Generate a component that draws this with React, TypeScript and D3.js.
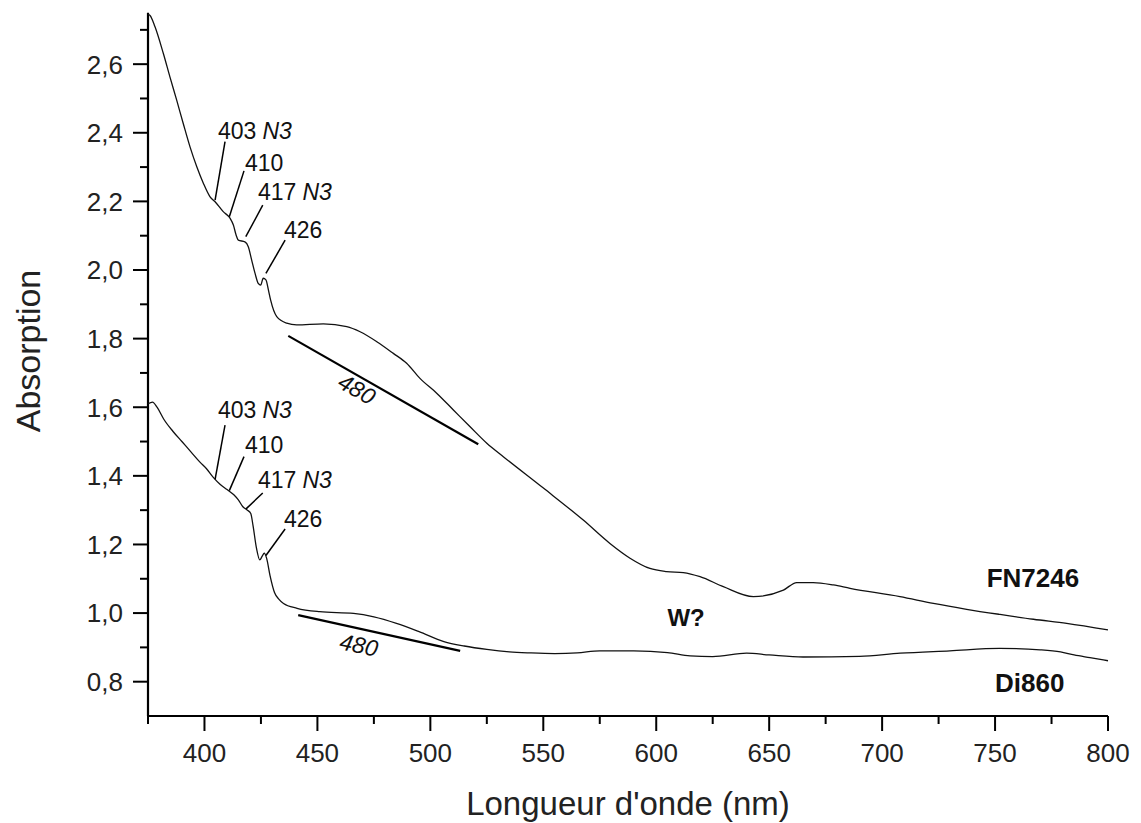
import React from "react";
import * as d3 from "d3";

// ---------- data ----------
const fnWavelength = [375, 375.9, 378.1, 381.8, 384.7, 387.7, 390.6, 393.6, 396.6, 399.5, 402.4, 404.7, 408.3, 411.3, 412.8, 414.0, 415.0, 417.9, 419.4, 420.9, 422.4, 423.8, 424.9, 426.0, 427.2, 428.3, 429.3, 432.0, 436.4, 440.8, 452.6, 463.0, 468.9, 476.3, 483.6, 489.5, 495.4, 502.8, 510.2, 517.6, 525.0, 532.3, 549.9, 567.7, 579.5, 588.4, 597.2, 604.6, 612.0, 619.4, 629.7, 643.0, 656.3, 662.2, 669.5, 678.4, 685.8, 707.9, 722.7, 737.4, 752.2, 767.0, 781.7, 800];
const fnAbsorption = [2.745, 2.742, 2.709, 2.631, 2.563, 2.495, 2.427, 2.359, 2.301, 2.253, 2.214, 2.199, 2.170, 2.151, 2.131, 2.102, 2.087, 2.082, 2.068, 2.029, 1.990, 1.961, 1.956, 1.976, 1.971, 1.942, 1.912, 1.864, 1.845, 1.840, 1.843, 1.835, 1.820, 1.791, 1.757, 1.728, 1.684, 1.641, 1.592, 1.543, 1.495, 1.456, 1.365, 1.271, 1.203, 1.160, 1.130, 1.121, 1.118, 1.106, 1.077, 1.048, 1.067, 1.089, 1.089, 1.082, 1.072, 1.048, 1.028, 1.011, 0.996, 0.982, 0.970, 0.951];

const diWavelength = [375, 377, 379, 382, 386, 390, 394, 398, 401, 404, 407, 410, 413, 415, 417, 419, 420.5, 421.5, 423, 424.5, 425.5, 426.5, 427.5, 429, 431, 433, 435, 441, 451, 466, 475, 485, 495, 506, 515, 525, 535, 544, 555, 565, 575, 590, 605, 615, 625, 640, 650, 665, 690, 708, 730, 752, 770, 779, 785, 792, 800];
const diAbsorption = [1.61, 1.615, 1.60, 1.565, 1.53, 1.50, 1.47, 1.44, 1.42, 1.395, 1.375, 1.36, 1.345, 1.33, 1.31, 1.30, 1.29, 1.255, 1.19, 1.155, 1.165, 1.175, 1.16, 1.11, 1.06, 1.04, 1.028, 1.014, 1.004, 0.999, 0.989, 0.970, 0.946, 0.917, 0.904, 0.894, 0.887, 0.884, 0.882, 0.884, 0.890, 0.890, 0.885, 0.875, 0.873, 0.883, 0.878, 0.872, 0.874, 0.883, 0.890, 0.897, 0.893, 0.887, 0.878, 0.870, 0.861];

const xMajorTicks = [400, 450, 500, 550, 600, 650, 700, 750, 800];
const xMinorTicks = [375, 425, 475, 525, 575, 625, 675, 725, 775];
const yMajorTicks = [0.8, 1.0, 1.2, 1.4, 1.6, 1.8, 2.0, 2.2, 2.4, 2.6];
const yMinorTicks = [0.9, 1.1, 1.3, 1.5, 1.7, 1.9, 2.1, 2.3, 2.5, 2.7];

// peak annotations: number, italic suffix, label anchor (nm, abs), leader start (nm, abs), leader end (nm, abs)
const peakNumbers = ["403", "410", "417", "426"];
const peakSuffix = ["N3", "", "N3", ""];
const topLabelNm = [406.0, 417.9, 423.7, 435.2];
const topLabelAbs = [2.383, 2.290, 2.204, 2.093];
const topLeaderFrom = [[409.1, 2.374], [417.5, 2.289], [425.8, 2.189], [435.7, 2.087]];
const topLeaderTo = [[404.7, 2.204], [411.0, 2.155], [418.3, 2.097], [427.2, 1.990]];
const botLabelAbs = [1.569, 1.467, 1.365, 1.251];
const botLeaderFrom = [[409.1, 1.548], [417.5, 1.456], [425.8, 1.350], [435.7, 1.245]];
const botLeaderTo = [[404.7, 1.39], [411.0, 1.357], [418.3, 1.303], [427.2, 1.168]];

// 480 nm band baselines
const band480Top = [[437.1, 1.808], [521.2, 1.492]];
const band480Bot = [[441.5, 0.994], [513.2, 0.890]];
const band480TopLabel = [467.5, 1.653];
const band480BotLabel = [468.4, 0.907];

const seriesNames = ["FN7246", "Di860"];
const seriesLabelPos = [[746.3, 1.077], [750.0, 0.771]];
const wLabel = "W?";
const wLabelPos = [613.2, 0.962];

const FONT = "'Liberation Sans', Arial, Helvetica, sans-serif";

export default function App() {
  const width = 1141;
  const height = 823;
  const x = d3.scaleLinear().domain([375, 800]).range([148, 1108]);
  const y = d3.scaleLinear().domain([0.7, 2.75]).range([716, 12.7]);

  const line = d3
    .line<[number, number]>()
    .x((d) => x(d[0]))
    .y((d) => y(d[1]))
    .curve(d3.curveMonotoneX);

  const fnPts = fnWavelength.map((w, i) => [w, fnAbsorption[i]] as [number, number]);
  const diPts = diWavelength.map((w, i) => [w, diAbsorption[i]] as [number, number]);
  const fmt = (v: number) => v.toFixed(1).replace(".", ",");

  const x0 = x(375);
  const y0 = y(0.7);

  const annot = (labelAbs: number[], from: number[][], to: number[][], key: string) =>
    peakNumbers.map((n, i) => (
      <g key={key + i}>
        <line
          x1={x(from[i][0])}
          y1={y(from[i][1])}
          x2={x(to[i][0])}
          y2={y(to[i][1])}
          stroke="#000"
          strokeWidth={1.5}
        />
        <text x={x(topLabelNm[i])} y={y(labelAbs[i])} fontSize={23} fontFamily={FONT} fill="#111">
          {n}
          {peakSuffix[i] ? (
            <tspan fontStyle="italic" dx={6}>
              {peakSuffix[i]}
            </tspan>
          ) : null}
        </text>
      </g>
    ));

  return (
    <svg
      width={width}
      height={height}
      style={{ position: "absolute", left: 0, top: 0, background: "#fff" }}
    >
      <rect x={0} y={0} width={width} height={height} fill="#fff" />
      {/* axes */}
      <line x1={x0} y1={y(2.75)} x2={x0} y2={y0} stroke="#000" strokeWidth={2.2} />
      <line x1={x0} y1={y0} x2={x(800)} y2={y0} stroke="#000" strokeWidth={2.2} />
      {yMajorTicks.map((t) => (
        <g key={"ym" + t}>
          <line x1={x0 - 15} x2={x0} y1={y(t)} y2={y(t)} stroke="#000" strokeWidth={2} />
          <text
            x={x0 - 25}
            y={y(t)}
            dy="0.36em"
            textAnchor="end"
            fontSize={26}
            fontFamily={FONT}
            fill="#222"
          >
            {fmt(t)}
          </text>
        </g>
      ))}
      {yMinorTicks.map((t) => (
        <line key={"yn" + t} x1={x0 - 8} x2={x0} y1={y(t)} y2={y(t)} stroke="#000" strokeWidth={2} />
      ))}
      {xMajorTicks.map((t) => (
        <g key={"xm" + t}>
          <line x1={x(t)} x2={x(t)} y1={y0} y2={y0 + 15} stroke="#000" strokeWidth={2} />
          <text x={x(t)} y={y0 + 46} textAnchor="middle" fontSize={26} fontFamily={FONT} fill="#222">
            {t}
          </text>
        </g>
      ))}
      {xMinorTicks.map((t) => (
        <line key={"xn" + t} x1={x(t)} x2={x(t)} y1={y0} y2={y0 + 8} stroke="#000" strokeWidth={2} />
      ))}
      <text
        x={628}
        y={815}
        textAnchor="middle"
        fontSize={33}
        fontFamily={FONT}
        fill="#222"
      >
        Longueur d'onde (nm)
      </text>
      <text
        transform={`translate(40, 351) rotate(-90)`}
        textAnchor="middle"
        fontSize={34}
        fontFamily={FONT}
        fill="#222"
      >
        Absorption
      </text>

      {/* spectra */}
      <path d={line(fnPts) || ""} fill="none" stroke="#111" strokeWidth={1.3} />
      <path d={line(diPts) || ""} fill="none" stroke="#111" strokeWidth={1.3} />

      {/* 480 band baselines */}
      <line
        x1={x(band480Top[0][0])}
        y1={y(band480Top[0][1])}
        x2={x(band480Top[1][0])}
        y2={y(band480Top[1][1])}
        stroke="#000"
        strokeWidth={2.2}
      />
      <line
        x1={x(band480Bot[0][0])}
        y1={y(band480Bot[0][1])}
        x2={x(band480Bot[1][0])}
        y2={y(band480Bot[1][1])}
        stroke="#000"
        strokeWidth={2.2}
      />
      <text
        transform={`translate(${x(band480TopLabel[0])}, ${y(band480TopLabel[1])}) rotate(30)`}
        textAnchor="middle"
        dy="0.35em"
        fontSize={23}
        fontStyle="italic"
        fontFamily={FONT}
        fill="#111"
      >
        480
      </text>
      <text
        transform={`translate(${x(band480BotLabel[0])}, ${y(band480BotLabel[1])}) rotate(12)`}
        textAnchor="middle"
        dy="0.35em"
        fontSize={23}
        fontStyle="italic"
        fontFamily={FONT}
        fill="#111"
      >
        480
      </text>

      {annot(topLabelAbs, topLeaderFrom, topLeaderTo, "t")}
      {annot(botLabelAbs, botLeaderFrom, botLeaderTo, "b")}

      {seriesNames.map((n, i) => (
        <text
          key={n}
          x={x(seriesLabelPos[i][0])}
          y={y(seriesLabelPos[i][1])}
          fontSize={26}
          fontWeight="bold"
          fontFamily={FONT}
          fill="#111"
        >
          {n}
        </text>
      ))}
      <text
        x={x(wLabelPos[0])}
        y={y(wLabelPos[1])}
        textAnchor="middle"
        fontSize={24}
        fontWeight="bold"
        fontFamily={FONT}
        fill="#111"
      >
        {wLabel}
      </text>
    </svg>
  );
}
